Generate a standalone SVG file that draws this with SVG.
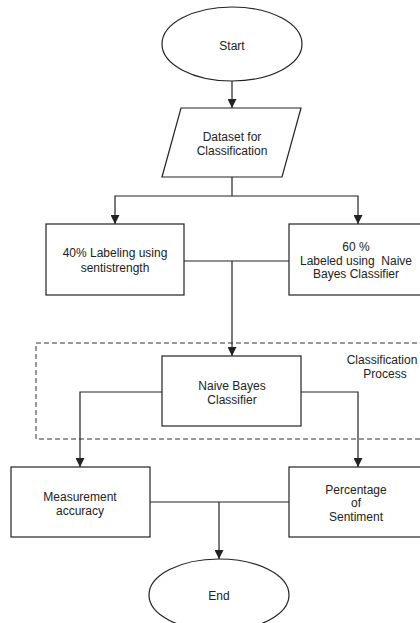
<svg xmlns="http://www.w3.org/2000/svg" width="420" height="623" viewBox="0 0 420 623">
<style>
.s{fill:#fff;stroke:#222;stroke-width:1.2}
.c{fill:none;stroke:#222;stroke-width:1.2}
.d{fill:none;stroke:#333;stroke-width:1;stroke-dasharray:5 3}
text{font-family:"Liberation Sans",Arial,sans-serif;font-size:12px;fill:#222;text-anchor:middle}
</style>
<defs>
<marker id="a" viewBox="0 0 10 10" refX="10" refY="5" markerWidth="10" markerHeight="9" markerUnits="userSpaceOnUse" orient="auto">
<path d="M0,0 L10,5 L0,10 z" fill="#222"/>
</marker>
</defs>
<rect width="420" height="623" fill="#fff"/>
<g id="group-classification">
<rect class="d" x="36" y="343" width="400" height="96"/>
<text x="382" y="364">Classification</text>
<text x="385" y="378">Process</text>
</g>
<g id="connectors">
<path class="c" d="M232,81 V108" marker-end="url(#a)"/>
<path class="c" d="M232,177 V196"/>
<path class="c" d="M232,196 H115 V224" marker-end="url(#a)"/>
<path class="c" d="M232,196 H358 V224" marker-end="url(#a)"/>
<path class="c" d="M184,261 H289"/>
<path class="c" d="M232,261 V356" marker-end="url(#a)"/>
<path class="c" d="M162,392 H80 V467" marker-end="url(#a)"/>
<path class="c" d="M301,392 H358 V467" marker-end="url(#a)"/>
<path class="c" d="M150,502 H289"/>
<path class="c" d="M219,502 V559" marker-end="url(#a)"/>
</g>
<g id="start">
<ellipse class="s" cx="232" cy="44" rx="70" ry="37"/>
<text x="232" y="50">Start</text>
</g>
<g id="dataset">
<polygon class="s" points="181,108 301,108 282,177 162,177"/>
<text x="232" y="141">Dataset for</text>
<text x="232" y="155">Classification</text>
</g>
<g id="labeling40">
<rect class="s" x="46" y="224" width="138" height="71"/>
<text x="115" y="257">40% Labeling using</text>
<text x="115" y="272">sentistrength</text>
</g>
<g id="labeled60">
<rect class="s" x="289" y="224" width="138" height="71"/>
<text x="356" y="251">60 %</text>
<text x="356" y="265">Labeled using&#160; Naive</text>
<text x="356" y="278">Bayes Classifier</text>
</g>
<g id="naivebayes">
<rect class="s" x="162" y="356" width="139" height="70"/>
<text x="232" y="390">Naive Bayes</text>
<text x="232" y="404">Classifier</text>
</g>
<g id="accuracy">
<rect class="s" x="11" y="467" width="139" height="70"/>
<text x="80" y="501">Measurement</text>
<text x="80" y="515">accuracy</text>
</g>
<g id="percentage">
<rect class="s" x="289" y="467" width="138" height="70"/>
<text x="356" y="494">Percentage</text>
<text x="356" y="507">of</text>
<text x="356" y="521">Sentiment</text>
</g>
<g id="end">
<ellipse class="s" cx="219" cy="595" rx="70" ry="36"/>
<text x="219" y="600">End</text>
</g>
</svg>
